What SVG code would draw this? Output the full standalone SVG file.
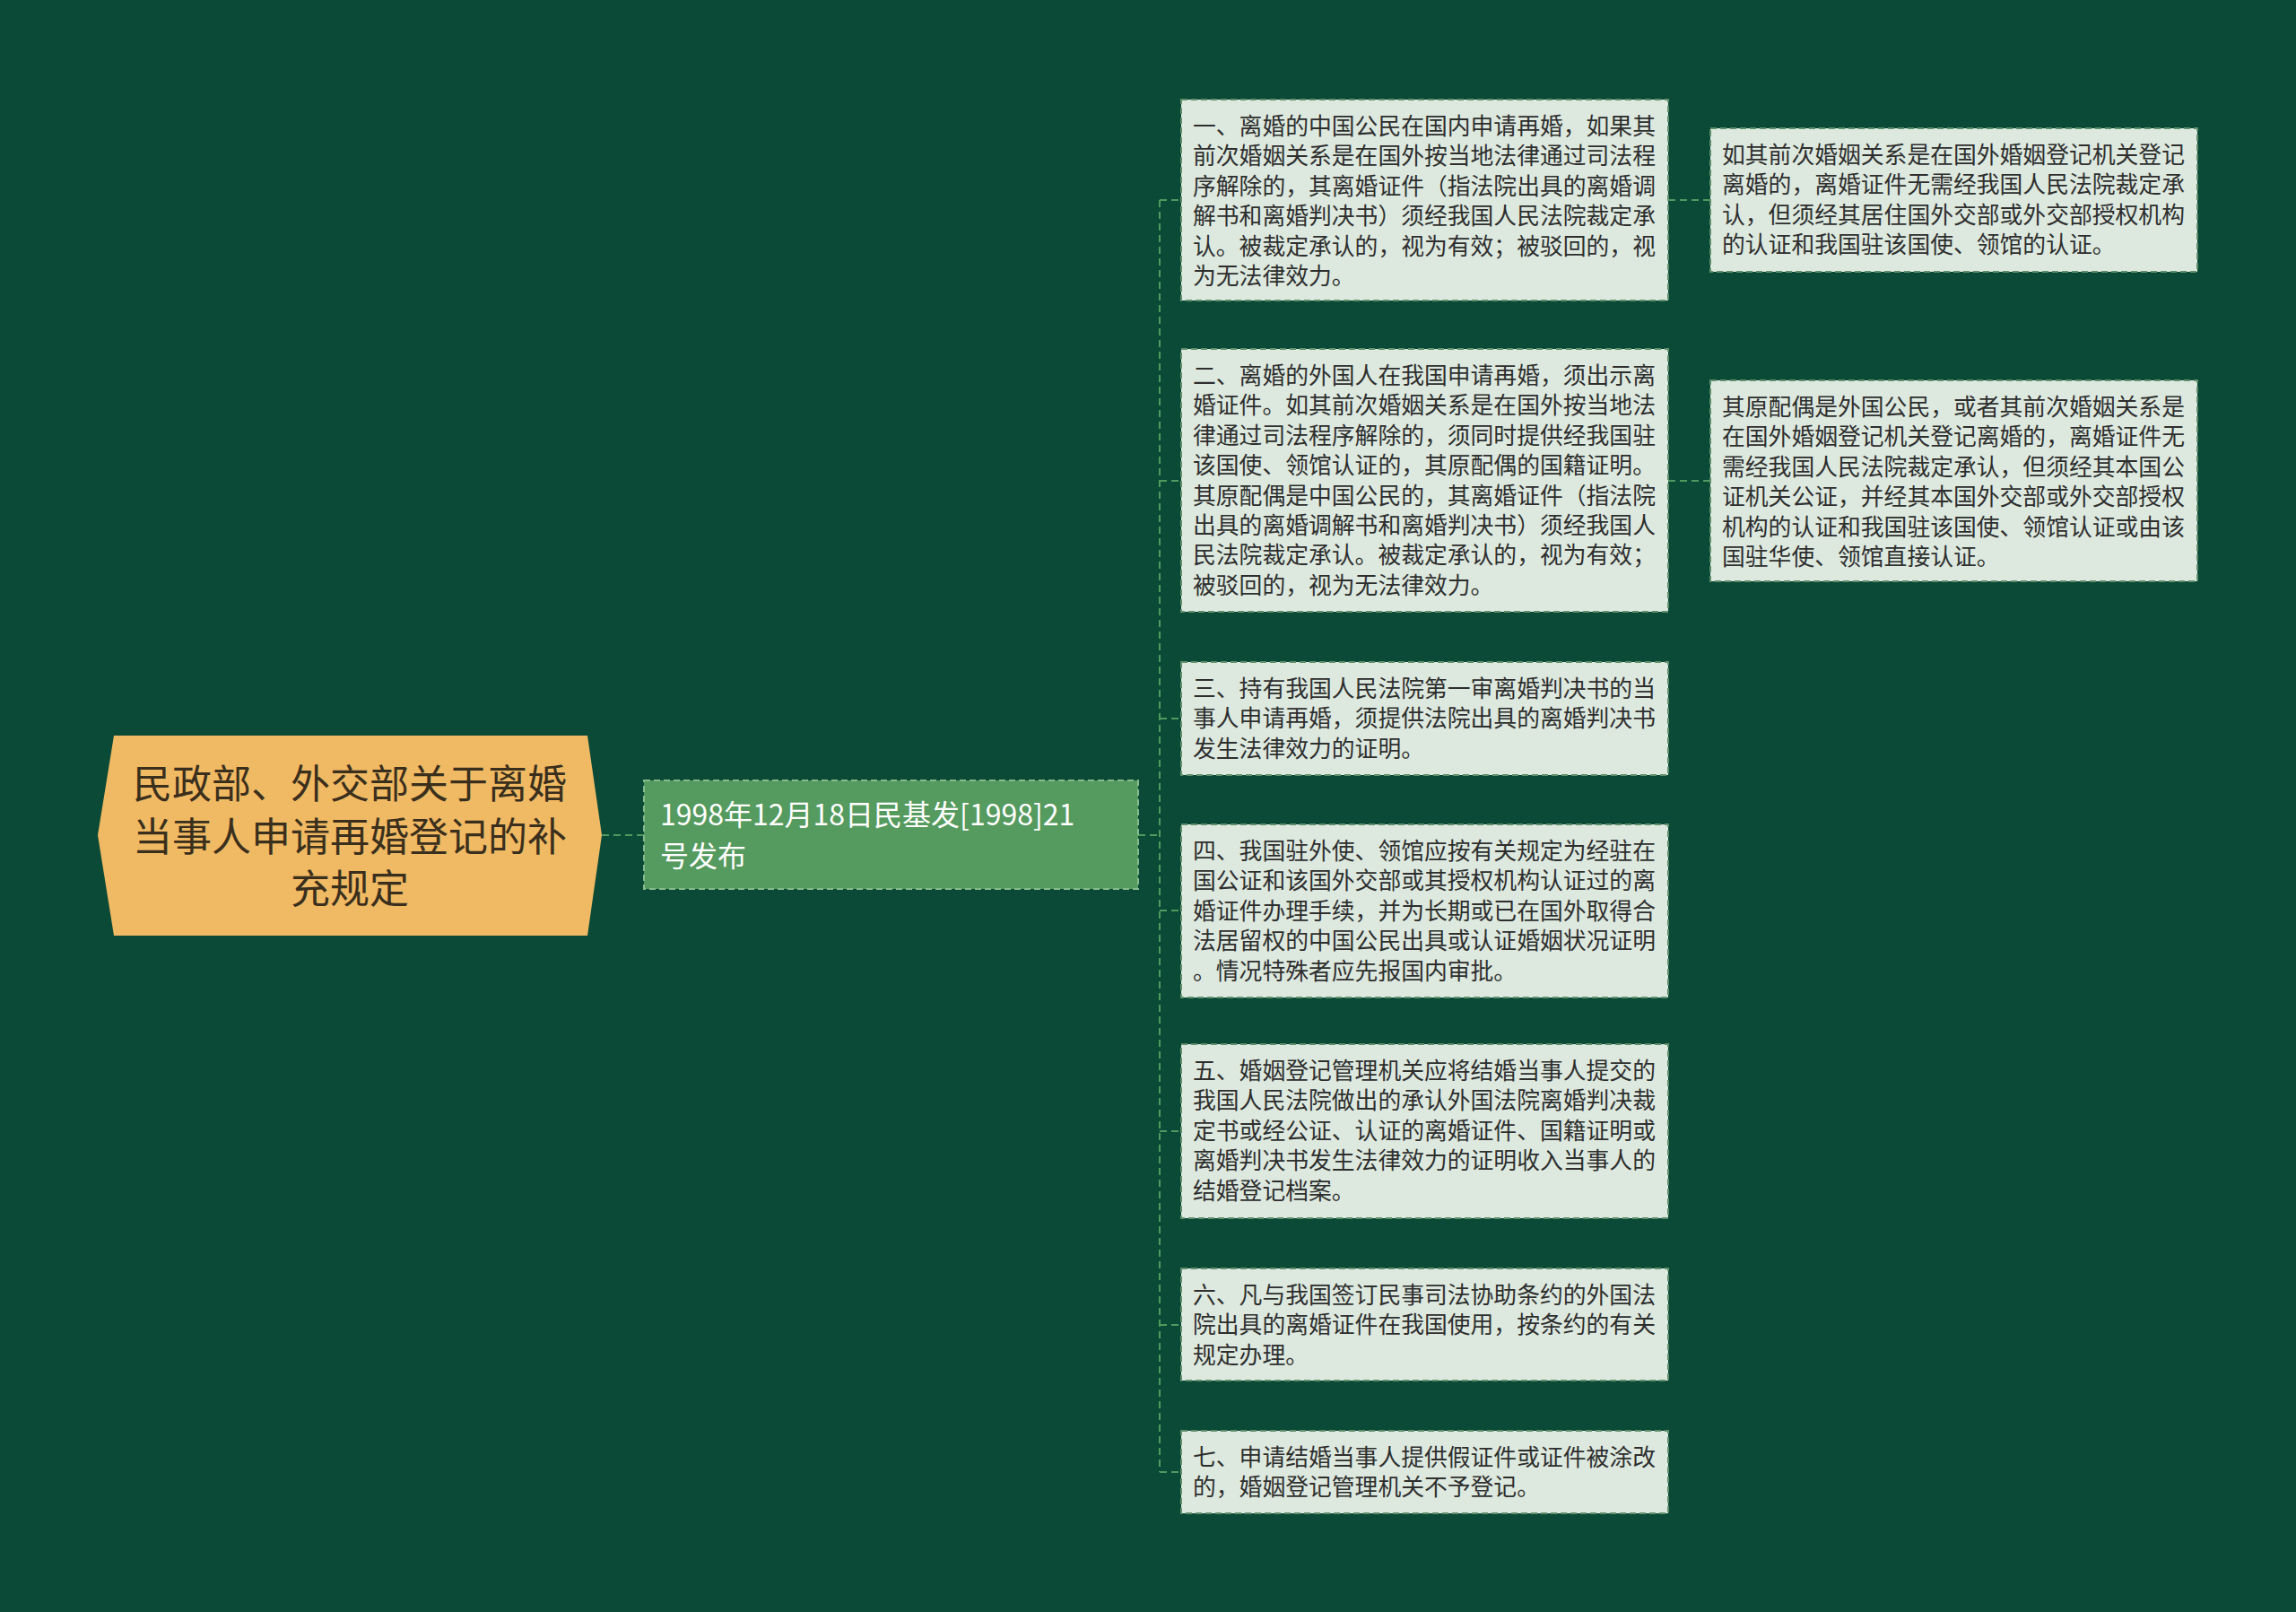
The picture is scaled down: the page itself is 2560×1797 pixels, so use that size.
<svg xmlns="http://www.w3.org/2000/svg" width="2560" height="1797" viewBox="0 0 2560 1797">
<style>
.leaf{fill:#dde9df;stroke:#5f8f6b;stroke-width:2;stroke-dasharray:7 4;}
.lt{font-family:"Noto Sans CJK SC","Noto Sans",sans-serif;font-size:25.8px;fill:#2e2e2e;}
.conn{fill:none;stroke:#4f9a5e;stroke-width:2;stroke-dasharray:8 5;}
</style>
<rect x="0" y="0" width="2560" height="1797" fill="#0b4a37"/>
<g id="connectors">
<path class="conn" d="M671 931 H718"/>
<path class="conn" d="M1269 931 H1293"/>
<path class="conn" d="M1293 223 V1641"/>
<path class="conn" d="M1293 223 H1317"/>
<path class="conn" d="M1293 536 H1317"/>
<path class="conn" d="M1293 801 H1317"/>
<path class="conn" d="M1293 1015 H1317"/>
<path class="conn" d="M1293 1261 H1317"/>
<path class="conn" d="M1293 1477 H1317"/>
<path class="conn" d="M1293 1641 H1317"/>
<path class="conn" d="M1860 223 H1907"/>
<path class="conn" d="M1860 536 H1907"/>
</g>
<g id="root">
<polygon points="127,820 655,820 671,931 655,1043 127,1043 109,931" fill="#f0b963"/>
<g font-family="Noto Sans CJK SC,Noto Sans,sans-serif" font-size="44" fill="#3a2f1c" text-anchor="middle">
<text x="390" y="890">民政部、外交部关于离婚</text>
<text x="390" y="949">当事人申请再婚登记的补</text>
<text x="390" y="1007">充规定</text>
</g>
</g>
<g id="date">
<rect x="718" y="870" width="551" height="121" fill="#559a5e" stroke="#86bb8c" stroke-width="2" stroke-dasharray="7 4"/>
<g font-family="Noto Sans CJK SC,Noto Sans,sans-serif" font-size="32" fill="#ffffff">
<text x="736" y="920">1998年12月18日民基发[1998]21</text>
<text x="736" y="966">号发布</text>
</g>
</g>
<g id="item1">
<rect class="leaf" x="1317" y="111" width="543" height="224"/>
<text class="lt" x="1330" y="150">一、离婚的中国公民在国内申请再婚，如果其<tspan x="1330" dy="33.4">前次婚姻关系是在国外按当地法律通过司法程</tspan><tspan x="1330" dy="33.4">序解除的，其离婚证件（指法院出具的离婚调</tspan><tspan x="1330" dy="33.4">解书和离婚判决书）须经我国人民法院裁定承</tspan><tspan x="1330" dy="33.4">认。被裁定承认的，视为有效；被驳回的，视</tspan><tspan x="1330" dy="33.4">为无法律效力。</tspan></text>
</g>
<g id="item1a">
<rect class="leaf" x="1907" y="143" width="543" height="160"/>
<text class="lt" x="1920" y="182">如其前次婚姻关系是在国外婚姻登记机关登记<tspan x="1920" dy="33.4">离婚的，离婚证件无需经我国人民法院裁定承</tspan><tspan x="1920" dy="33.4">认，但须经其居住国外交部或外交部授权机构</tspan><tspan x="1920" dy="33.4">的认证和我国驻该国使、领馆的认证。</tspan></text>
</g>
<g id="item2">
<rect class="leaf" x="1317" y="389" width="543" height="293"/>
<text class="lt" x="1330" y="428">二、离婚的外国人在我国申请再婚，须出示离<tspan x="1330" dy="33.4">婚证件。如其前次婚姻关系是在国外按当地法</tspan><tspan x="1330" dy="33.4">律通过司法程序解除的，须同时提供经我国驻</tspan><tspan x="1330" dy="33.4">该国使、领馆认证的，其原配偶的国籍证明。</tspan><tspan x="1330" dy="33.4">其原配偶是中国公民的，其离婚证件（指法院</tspan><tspan x="1330" dy="33.4">出具的离婚调解书和离婚判决书）须经我国人</tspan><tspan x="1330" dy="33.4">民法院裁定承认。被裁定承认的，视为有效；</tspan><tspan x="1330" dy="33.4">被驳回的，视为无法律效力。</tspan></text>
</g>
<g id="item2a">
<rect class="leaf" x="1907" y="424" width="543" height="224"/>
<text class="lt" x="1920" y="463">其原配偶是外国公民，或者其前次婚姻关系是<tspan x="1920" dy="33.4">在国外婚姻登记机关登记离婚的，离婚证件无</tspan><tspan x="1920" dy="33.4">需经我国人民法院裁定承认，但须经其本国公</tspan><tspan x="1920" dy="33.4">证机关公证，并经其本国外交部或外交部授权</tspan><tspan x="1920" dy="33.4">机构的认证和我国驻该国使、领馆认证或由该</tspan><tspan x="1920" dy="33.4">国驻华使、领馆直接认证。</tspan></text>
</g>
<g id="item3">
<rect class="leaf" x="1317" y="738" width="543" height="126"/>
<text class="lt" x="1330" y="777">三、持有我国人民法院第一审离婚判决书的当<tspan x="1330" dy="33.4">事人申请再婚，须提供法院出具的离婚判决书</tspan><tspan x="1330" dy="33.4">发生法律效力的证明。</tspan></text>
</g>
<g id="item4">
<rect class="leaf" x="1317" y="919" width="543" height="193"/>
<text class="lt" x="1330" y="958">四、我国驻外使、领馆应按有关规定为经驻在<tspan x="1330" dy="33.4">国公证和该国外交部或其授权机构认证过的离</tspan><tspan x="1330" dy="33.4">婚证件办理手续，并为长期或已在国外取得合</tspan><tspan x="1330" dy="33.4">法居留权的中国公民出具或认证婚姻状况证明</tspan><tspan x="1330" dy="33.4">。情况特殊者应先报国内审批。</tspan></text>
</g>
<g id="item5">
<rect class="leaf" x="1317" y="1164" width="543" height="194"/>
<text class="lt" x="1330" y="1203">五、婚姻登记管理机关应将结婚当事人提交的<tspan x="1330" dy="33.4">我国人民法院做出的承认外国法院离婚判决裁</tspan><tspan x="1330" dy="33.4">定书或经公证、认证的离婚证件、国籍证明或</tspan><tspan x="1330" dy="33.4">离婚判决书发生法律效力的证明收入当事人的</tspan><tspan x="1330" dy="33.4">结婚登记档案。</tspan></text>
</g>
<g id="item6">
<rect class="leaf" x="1317" y="1414" width="543" height="125"/>
<text class="lt" x="1330" y="1453">六、凡与我国签订民事司法协助条约的外国法<tspan x="1330" dy="33.4">院出具的离婚证件在我国使用，按条约的有关</tspan><tspan x="1330" dy="33.4">规定办理。</tspan></text>
</g>
<g id="item7">
<rect class="leaf" x="1317" y="1595" width="543" height="92"/>
<text class="lt" x="1330" y="1634">七、申请结婚当事人提供假证件或证件被涂改<tspan x="1330" dy="33.4">的，婚姻登记管理机关不予登记。</tspan></text>
</g>
</svg>
